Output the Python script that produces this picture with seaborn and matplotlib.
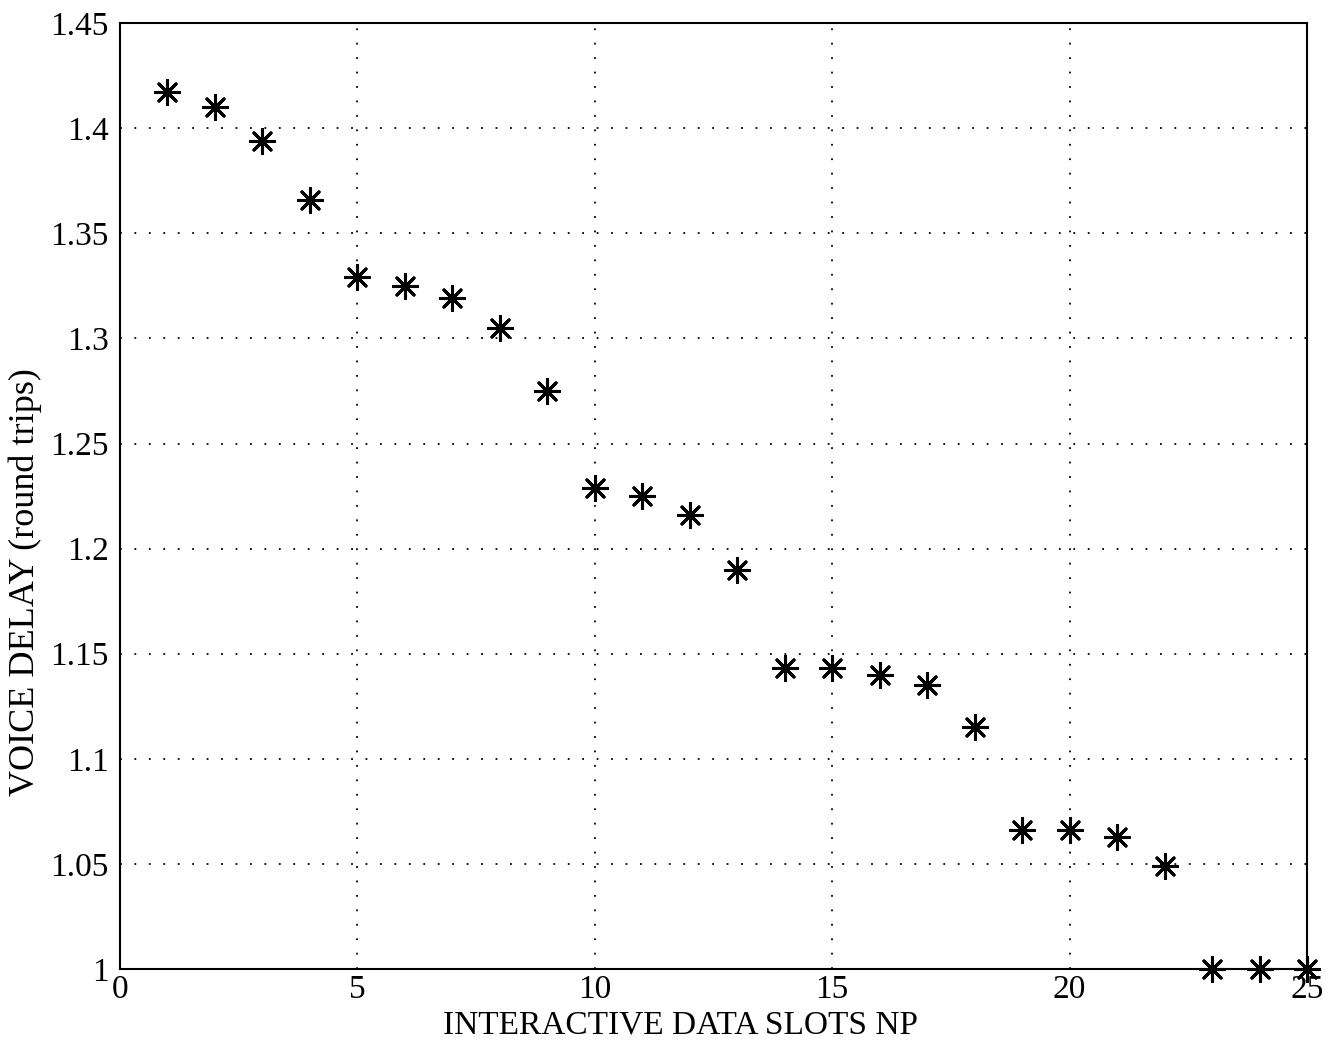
import matplotlib
matplotlib.use("Agg")
import matplotlib.pyplot as plt
import seaborn as sns
import pandas as pd

slots = list(range(1, 26))
delay = [1.417, 1.410, 1.394, 1.366, 1.329, 1.325, 1.319, 1.305, 1.275, 1.229,
         1.225, 1.216, 1.190, 1.143, 1.143, 1.140, 1.135, 1.115, 1.066, 1.066,
         1.063, 1.049, 1.000, 1.000, 1.000]
xticks = [0, 5, 10, 15, 20, 25]
yticks = [1.0, 1.05, 1.1, 1.15, 1.2, 1.25, 1.3, 1.35, 1.4, 1.45]
ytick_labels = ["1", "1.05", "1.1", "1.15", "1.2", "1.25", "1.3", "1.35", "1.4", "1.45"]

sns.set_style("white")
plt.rcParams['font.family'] = ['Liberation Serif', 'DejaVu Serif']
plt.rcParams['text.color'] = 'black'
plt.rcParams['axes.labelcolor'] = 'black'

df = pd.DataFrame({"x": slots, "y": delay})
fig = plt.figure(figsize=(13.3, 10.5), dpi=100)
ax = fig.add_axes([0.0902, 0.0771, 0.8925, 0.9009])

sns.scatterplot(data=df, x="x", y="y", ax=ax, marker=(8, 2, 0), s=300,
                color="black", edgecolor="black", linewidth=2.2, clip_on=False, zorder=3)

ax.set_xlim(0, 25)
ax.set_ylim(1.0, 1.45)
ax.set_xticks(xticks)
ax.set_xticklabels([str(t) for t in xticks])
ax.set_yticks(yticks)
ax.set_yticklabels(ytick_labels)
ax.tick_params(direction="in", length=7, width=1.2, labelsize=24, colors="black")
ax.tick_params(axis="x", pad=4)
ax.tick_params(axis="y", pad=8)
ax.grid(True, color="black", linestyle=(0, (1, 7)), linewidth=1.3)
for s in ax.spines.values():
    s.set_color("black")
    s.set_linewidth(1.5)
ax.set_xlabel("INTERACTIVE DATA SLOTS NP", fontsize=24)
ax.set_ylabel("VOICE DELAY (round trips)", fontsize=26)
ax.xaxis.set_label_coords(0.472, -0.043)
ax.yaxis.set_label_coords(-0.066, 0.409)

fig.savefig("out.png", dpi=100)
